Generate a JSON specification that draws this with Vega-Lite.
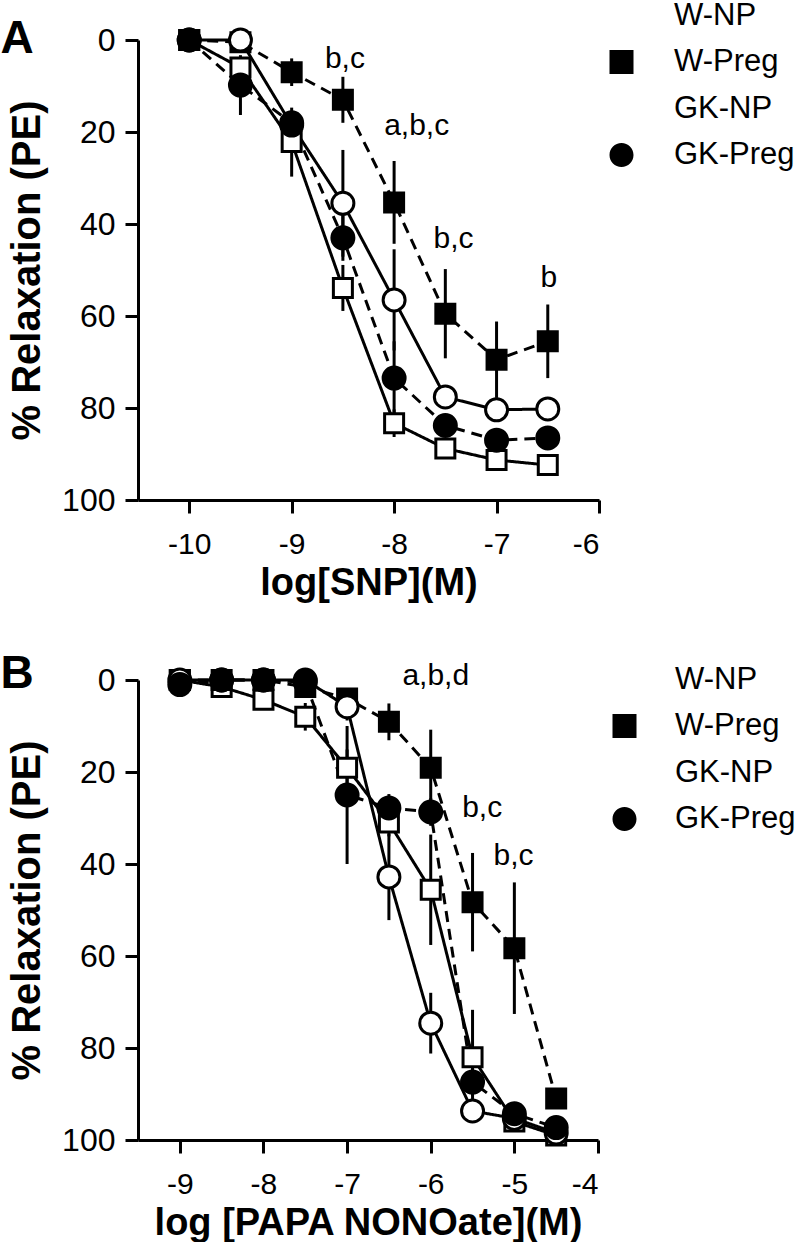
{
  "$schema": "https://vega.github.io/schema/vega-lite/v6.json",
  "padding": {"left": 0, "top": 0, "right": 0, "bottom": 0},
  "background": "white",
  "config": {
    "view": {"stroke": null},
    "font": "Liberation Sans",
    "axis": {
      "domainColor": "black", "domainWidth": 3, "tickColor": "black", "tickWidth": 3, "tickSize": 13,
      "labelFont": "Liberation Sans", "labelColor": "black", "grid": false,
      "titleFont": "Liberation Sans", "titleFontWeight": "bold", "titleColor": "black"
    },
    "axisX": {"labelFontSize": 30, "labelPadding": 16, "titleFontSize": 38, "titlePadding": 5, "labelExpr": "'' + datum.value"},
    "axisY": {"labelFontSize": 32, "labelPadding": 10, "titleFontSize": 40, "titlePadding": 14},
    "title": {"font": "Liberation Sans", "fontSize": 46, "fontWeight": "bold", "color": "black", "anchor": "start", "frame": "bounds"},
    "legend": {
      "orient": "none", "padding": 0, "labelFont": "Liberation Sans", "labelFontSize": 31, "labelColor": "black",
      "symbolSize": 576, "symbolStrokeWidth": 3, "symbolStrokeColor": "black", "symbolOpacity": 1, "rowPadding": 9.5,
      "labelLimit": 300
    }
  },
  "datasets": {
    "snp": [
      {"group": "W-NP", "logc": -10, "relax": 0},
      {"group": "W-NP", "logc": -9.5, "relax": 6},
      {"group": "W-NP", "logc": -9, "relax": 22.2, "lo": 14.7, "hi": 29.7},
      {"group": "W-NP", "logc": -8.5, "relax": 53.9, "lo": 48.9, "hi": 58.9},
      {"group": "W-NP", "logc": -8, "relax": 83.3, "lo": 80.3, "hi": 86.3},
      {"group": "W-NP", "logc": -7.5, "relax": 88.8, "lo": 87.3, "hi": 90.3},
      {"group": "W-NP", "logc": -7, "relax": 91.3, "lo": 89.3, "hi": 93.3},
      {"group": "W-NP", "logc": -6.5, "relax": 92.4, "lo": 90.9, "hi": 93.9},
      {"group": "W-Preg", "logc": -10, "relax": 0},
      {"group": "W-Preg", "logc": -9.5, "relax": 0.5},
      {"group": "W-Preg", "logc": -9, "relax": 7, "lo": 4, "hi": 10},
      {"group": "W-Preg", "logc": -8.5, "relax": 13, "lo": 8, "hi": 18},
      {"group": "W-Preg", "logc": -8, "relax": 35.3, "lo": 26.3, "hi": 44.3},
      {"group": "W-Preg", "logc": -7.5, "relax": 59.5, "lo": 49.8, "hi": 69.2},
      {"group": "W-Preg", "logc": -7, "relax": 69.5, "lo": 61.2, "hi": 77.8},
      {"group": "W-Preg", "logc": -6.5, "relax": 65.5, "lo": 57.5, "hi": 73.5},
      {"group": "GK-NP", "logc": -10, "relax": 0},
      {"group": "GK-NP", "logc": -9.5, "relax": 0},
      {"group": "GK-NP", "logc": -9, "relax": 18.5, "lo": 16.5, "hi": 20.5},
      {"group": "GK-NP", "logc": -8.5, "relax": 35.5, "lo": 23.9, "hi": 47.1},
      {"group": "GK-NP", "logc": -8, "relax": 56.5, "lo": 45.5, "hi": 67.5},
      {"group": "GK-NP", "logc": -7.5, "relax": 77.6, "lo": 75.6, "hi": 79.6},
      {"group": "GK-NP", "logc": -7, "relax": 80.4, "lo": 77.9, "hi": 82.9},
      {"group": "GK-NP", "logc": -6.5, "relax": 80.2, "lo": 78.2, "hi": 82.2},
      {"group": "GK-Preg", "logc": -10, "relax": 0},
      {"group": "GK-Preg", "logc": -9.5, "relax": 9.8, "lo": 3.3, "hi": 16.3},
      {"group": "GK-Preg", "logc": -9, "relax": 18},
      {"group": "GK-Preg", "logc": -8.5, "relax": 43, "lo": 38, "hi": 48},
      {"group": "GK-Preg", "logc": -8, "relax": 73.5, "lo": 65.5, "hi": 81.5},
      {"group": "GK-Preg", "logc": -7.5, "relax": 83.8, "lo": 81.8, "hi": 85.8},
      {"group": "GK-Preg", "logc": -7, "relax": 87, "lo": 85, "hi": 89},
      {"group": "GK-Preg", "logc": -6.5, "relax": 86.5, "lo": 84.5, "hi": 88.5}
    ],
    "snpAnn": [
      {"logc": -8.48, "relax": 6, "label": "b,c"},
      {"logc": -7.78, "relax": 20.7, "label": "a,b,c"},
      {"logc": -7.42, "relax": 45.2, "label": "b,c"},
      {"logc": -6.49, "relax": 53.7, "label": "b"}
    ],
    "papa": [
      {"group": "W-NP", "logc": -9, "relax": 0},
      {"group": "W-NP", "logc": -8.5, "relax": 1.5},
      {"group": "W-NP", "logc": -8, "relax": 4.3},
      {"group": "W-NP", "logc": -7.5, "relax": 8, "lo": 5, "hi": 11},
      {"group": "W-NP", "logc": -7, "relax": 19.1, "lo": 15.1, "hi": 23.1},
      {"group": "W-NP", "logc": -6.5, "relax": 31, "lo": 28, "hi": 34},
      {"group": "W-NP", "logc": -6, "relax": 45.6, "lo": 33.6, "hi": 57.6},
      {"group": "W-NP", "logc": -5.5, "relax": 82, "lo": 71.7, "hi": 92.3},
      {"group": "W-NP", "logc": -5, "relax": 96, "lo": 94.5, "hi": 97.5},
      {"group": "W-NP", "logc": -4.5, "relax": 99, "lo": 98, "hi": 100},
      {"group": "W-Preg", "logc": -9, "relax": 0},
      {"group": "W-Preg", "logc": -8.5, "relax": 0},
      {"group": "W-Preg", "logc": -8, "relax": 0},
      {"group": "W-Preg", "logc": -7.5, "relax": 1.5},
      {"group": "W-Preg", "logc": -7, "relax": 4},
      {"group": "W-Preg", "logc": -6.5, "relax": 9.1, "lo": 5.1, "hi": 13.1},
      {"group": "W-Preg", "logc": -6, "relax": 19.1, "lo": 10.8, "hi": 27.4},
      {"group": "W-Preg", "logc": -5.5, "relax": 48.3, "lo": 37.6, "hi": 59},
      {"group": "W-Preg", "logc": -5, "relax": 58.3, "lo": 44, "hi": 72.6},
      {"group": "W-Preg", "logc": -4.5, "relax": 91, "lo": 89, "hi": 93},
      {"group": "GK-NP", "logc": -9, "relax": 0},
      {"group": "GK-NP", "logc": -8.5, "relax": 0},
      {"group": "GK-NP", "logc": -8, "relax": 0},
      {"group": "GK-NP", "logc": -7.5, "relax": 0},
      {"group": "GK-NP", "logc": -7, "relax": 5.8, "lo": 2.8, "hi": 8.8},
      {"group": "GK-NP", "logc": -6.5, "relax": 42.8, "lo": 33.4, "hi": 52.2},
      {"group": "GK-NP", "logc": -6, "relax": 74.6, "lo": 68, "hi": 81.2},
      {"group": "GK-NP", "logc": -5.5, "relax": 93.7, "lo": 92.2, "hi": 95.2},
      {"group": "GK-NP", "logc": -5, "relax": 95.3, "lo": 94.3, "hi": 96.3},
      {"group": "GK-NP", "logc": -4.5, "relax": 98.5},
      {"group": "GK-Preg", "logc": -9, "relax": 1},
      {"group": "GK-Preg", "logc": -8.5, "relax": 0},
      {"group": "GK-Preg", "logc": -8, "relax": 0},
      {"group": "GK-Preg", "logc": -7.5, "relax": 0.5},
      {"group": "GK-Preg", "logc": -7, "relax": 25, "lo": 10, "hi": 40},
      {"group": "GK-Preg", "logc": -6.5, "relax": 27.8, "lo": 24.8, "hi": 30.8},
      {"group": "GK-Preg", "logc": -6, "relax": 28.7, "lo": 25.7, "hi": 31.7},
      {"group": "GK-Preg", "logc": -5.5, "relax": 87.4, "lo": 84.4, "hi": 90.4},
      {"group": "GK-Preg", "logc": -5, "relax": 94.3, "lo": 92.8, "hi": 95.8},
      {"group": "GK-Preg", "logc": -4.5, "relax": 97.3, "lo": 96.3, "hi": 98.3}
    ],
    "papaAnn": [
      {"logc": -5.94, "relax": 1.1, "label": "a,b,d"},
      {"logc": -5.385, "relax": 29.8, "label": "b,c"},
      {"logc": -5.01, "relax": 40.2, "label": "b,c"}
    ]
  },
  "vconcat": [
    {
      "width": 461, "height": 460,
      "title": {"text": "A", "offset": -63, "dx": -7},
      "layer": [
        {
          "data": {"name": "snp"},
          "mark": {"type": "line", "strokeWidth": 3, "color": "black"},
          "encoding": {
            "x": {"field": "logc", "type": "quantitative", "scale": {"domain": [-10.5, -6], "nice": false, "zero": false}, "axis": {"values": [-10, -9, -8, -7, -6], "title": "log[SNP](M)"}},
            "y": {"field": "relax", "type": "quantitative", "scale": {"domain": [0, 100], "reverse": true, "nice": false}, "axis": {"values": [0, 20, 40, 60, 80, 100], "title": "% Relaxation (PE)"}},
            "strokeDash": {"field": "group", "type": "nominal", "scale": {"domain": ["W-NP", "W-Preg", "GK-NP", "GK-Preg"], "range": [[1, 0], [11, 7], [1, 0], [11, 7]]}}
          }
        },
        {
          "data": {"name": "snp"},
          "transform": [{"filter": {"field": "logc", "lt": -100}}],
          "mark": {"type": "point", "filled": true, "opacity": 1, "stroke": "black", "strokeWidth": 3},
          "encoding": {
            "x": {"field": "logc", "type": "quantitative"},
            "y": {"field": "relax", "type": "quantitative"},
            "shape": {"field": "group", "type": "nominal", "scale": {"domain": ["W-NP", "W-Preg", "GK-NP", "GK-Preg"], "range": ["M-2.1,0H-1M1,0H2.1M-1,-1H1V1H-1Z", "M-2.1,0H-1M1,0H2.1M-1,-1H1V1H-1Z", "M-2.1,0H-1M1,0H2.1M-1,0A1,1,0,1,1,1,0A1,1,0,1,1,-1,0Z", "M-2.1,0H-1M1,0H2.1M-1,0A1,1,0,1,1,1,0A1,1,0,1,1,-1,0Z"]}},
            "fill": {"field": "group", "type": "nominal"}
          }
        },
        {
          "data": {"name": "snp"},
          "transform": [{"filter": {"field": "lo", "valid": true}}],
          "mark": {"type": "rule", "strokeWidth": 3, "color": "black"},
          "encoding": {
            "x": {"field": "logc", "type": "quantitative"},
            "y": {"field": "lo", "type": "quantitative"},
            "y2": {"field": "hi"}
          }
        },
        {
          "data": {"name": "snp"},
          "transform": [{"filter": {"field": "group", "oneOf": ["W-NP", "W-Preg"]}}],
          "mark": {"type": "point", "shape": "square", "size": 361, "filled": true, "stroke": "black", "strokeWidth": 3, "opacity": 1},
          "encoding": {
            "x": {"field": "logc", "type": "quantitative"},
            "y": {"field": "relax", "type": "quantitative"},
            "fill": {"field": "group", "type": "nominal", "scale": {"domain": ["W-NP", "W-Preg", "GK-NP", "GK-Preg"], "range": ["white", "black", "white", "black"]},
              "legend": {"orient": "none", "legendX": 468, "legendY": -40, "title": null, "labelOffset": 37}}
          }
        },
        {
          "data": {"name": "snp"},
          "transform": [{"filter": {"field": "group", "oneOf": ["GK-NP", "GK-Preg"]}}],
          "mark": {"type": "point", "shape": "circle", "size": 484, "filled": true, "stroke": "black", "strokeWidth": 3, "opacity": 1},
          "encoding": {
            "x": {"field": "logc", "type": "quantitative"},
            "y": {"field": "relax", "type": "quantitative"},
            "fill": {"field": "group", "type": "nominal"}
          }
        },
        {
          "data": {"name": "snpAnn"},
          "mark": {"type": "text", "fontSize": 30, "font": "Liberation Sans", "color": "black", "align": "center", "baseline": "alphabetic"},
          "encoding": {
            "x": {"field": "logc", "type": "quantitative"},
            "y": {"field": "relax", "type": "quantitative"},
            "text": {"field": "label"}
          }
        }
      ]
    },
    {
      "width": 460, "height": 460,
      "title": {"text": "B", "offset": -37, "dx": -7},
      "layer": [
        {
          "data": {"name": "papa"},
          "mark": {"type": "line", "strokeWidth": 3, "color": "black"},
          "encoding": {
            "x": {"field": "logc", "type": "quantitative", "scale": {"domain": [-9.5, -4], "nice": false, "zero": false}, "axis": {"values": [-9, -8, -7, -6, -5, -4], "title": "log [PAPA NONOate](M)"}},
            "y": {"field": "relax", "type": "quantitative", "scale": {"domain": [0, 100], "reverse": true, "nice": false}, "axis": {"values": [0, 20, 40, 60, 80, 100], "title": "% Relaxation (PE)"}},
            "strokeDash": {"field": "group", "type": "nominal", "scale": {"domain": ["W-NP", "W-Preg", "GK-NP", "GK-Preg"], "range": [[1, 0], [11, 7], [1, 0], [11, 7]]}}
          }
        },
        {
          "data": {"name": "papa"},
          "transform": [{"filter": {"field": "logc", "lt": -100}}],
          "mark": {"type": "point", "filled": true, "opacity": 1, "stroke": "black", "strokeWidth": 3},
          "encoding": {
            "x": {"field": "logc", "type": "quantitative"},
            "y": {"field": "relax", "type": "quantitative"},
            "shape": {"field": "group", "type": "nominal", "scale": {"domain": ["W-NP", "W-Preg", "GK-NP", "GK-Preg"], "range": ["M-2.1,0H-1M1,0H2.1M-1,-1H1V1H-1Z", "M-2.1,0H-1M1,0H2.1M-1,-1H1V1H-1Z", "M-2.1,0H-1M1,0H2.1M-1,0A1,1,0,1,1,1,0A1,1,0,1,1,-1,0Z", "M-2.1,0H-1M1,0H2.1M-1,0A1,1,0,1,1,1,0A1,1,0,1,1,-1,0Z"]}},
            "fill": {"field": "group", "type": "nominal"}
          }
        },
        {
          "data": {"name": "papa"},
          "transform": [{"filter": {"field": "lo", "valid": true}}],
          "mark": {"type": "rule", "strokeWidth": 3, "color": "black"},
          "encoding": {
            "x": {"field": "logc", "type": "quantitative"},
            "y": {"field": "lo", "type": "quantitative"},
            "y2": {"field": "hi"}
          }
        },
        {
          "data": {"name": "papa"},
          "transform": [{"filter": {"field": "group", "oneOf": ["W-NP", "W-Preg"]}}],
          "mark": {"type": "point", "shape": "square", "size": 361, "filled": true, "stroke": "black", "strokeWidth": 3, "opacity": 1},
          "encoding": {
            "x": {"field": "logc", "type": "quantitative"},
            "y": {"field": "relax", "type": "quantitative"},
            "fill": {"field": "group", "type": "nominal", "scale": {"domain": ["W-NP", "W-Preg", "GK-NP", "GK-Preg"], "range": ["white", "black", "white", "black"]},
              "legend": {"orient": "none", "legendX": 471, "legendY": -16, "title": null, "labelOffset": 35}}
          }
        },
        {
          "data": {"name": "papa"},
          "transform": [{"filter": {"field": "group", "oneOf": ["GK-NP", "GK-Preg"]}}],
          "mark": {"type": "point", "shape": "circle", "size": 484, "filled": true, "stroke": "black", "strokeWidth": 3, "opacity": 1},
          "encoding": {
            "x": {"field": "logc", "type": "quantitative"},
            "y": {"field": "relax", "type": "quantitative"},
            "fill": {"field": "group", "type": "nominal"}
          }
        },
        {
          "data": {"name": "papaAnn"},
          "mark": {"type": "text", "fontSize": 30, "font": "Liberation Sans", "color": "black", "align": "center", "baseline": "alphabetic"},
          "encoding": {
            "x": {"field": "logc", "type": "quantitative"},
            "y": {"field": "relax", "type": "quantitative"},
            "text": {"field": "label"}
          }
        }
      ]
    }
  ],
  "spacing": 180,
  "bounds": "flush",
  "resolve": {
    "scale": {"fill": "independent", "strokeDash": "independent", "shape": "independent"},
    "legend": {"fill": "independent", "strokeDash": "independent", "shape": "independent"}
  }
}
